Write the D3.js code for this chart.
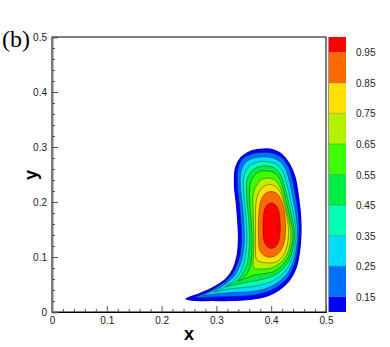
<!DOCTYPE html>
<html>
<head>
<meta charset="utf-8">
<script src="https://cdn.jsdelivr.net/npm/d3@7"></script>
<style>
  body { margin: 0; background: #fff; }
  svg { display: block; font-family: "Liberation Sans", Arial, sans-serif; }
</style>
</head>
<body>
<div id="chart"></div>
<script>
// contour levels shown in the legend
const levels = [0.15, 0.25, 0.35, 0.45, 0.55, 0.65, 0.75, 0.85, 0.95];
const bandColors = ["#0000ff", "#0070ff", "#00dcff", "#00ffb0", "#00ee44",
  "#3cff00", "#b4f000", "#ffe000", "#ff6a00", "#ff0000"];
const xTicks = [0, 0.1, 0.2, 0.3, 0.4, 0.5];
const yTicks = [0, 0.1, 0.2, 0.3, 0.4, 0.5];

// iso-lines, outermost (edge of field) first
const c0 = [[0.2445,0.0236],[0.2701,0.0336],[0.2956,0.0455],[0.3175,0.0600],[0.3303,0.0782],[0.3376,0.1018],
  [0.3403,0.1309],[0.3394,0.1582],[0.3367,0.1945],[0.3330,0.2309],[0.3348,0.2618],[0.3449,0.2809],[0.3631,0.2927],
  [0.3850,0.2964],[0.4051,0.2945],[0.4206,0.2855],[0.4334,0.2691],[0.4434,0.2455],[0.4498,0.2091],[0.4535,0.1764],
  [0.4544,0.1455],[0.4516,0.1091],[0.4453,0.0800],[0.4325,0.0564],[0.4142,0.0400],[0.3905,0.0282],[0.3613,0.0227],
  [0.3285,0.0209],[0.2920,0.0209],[0.2609,0.0209]];
const c15 = [[0.2609,0.0264],[0.2847,0.0364],[0.3066,0.0491],[0.3248,0.0636],[0.3358,0.0818],[0.3431,0.1036],
  [0.3458,0.1309],[0.3449,0.1582],[0.3422,0.1945],[0.3385,0.2291],[0.3394,0.2600],[0.3476,0.2782],[0.3650,0.2873],
  [0.3850,0.2900],[0.4042,0.2882],[0.4188,0.2809],[0.4297,0.2673],[0.4380,0.2436],[0.4453,0.2073],[0.4498,0.1745],
  [0.4507,0.1455],[0.4480,0.1109],[0.4416,0.0845],[0.4297,0.0618],[0.4124,0.0464],[0.3887,0.0355],[0.3613,0.0300],
  [0.3285,0.0282],[0.2938,0.0273]];
const c25 = [[0.2774,0.0309],[0.2993,0.0409],[0.3193,0.0527],[0.3339,0.0673],[0.3431,0.0855],[0.3485,0.1055],
  [0.3513,0.1309],[0.3504,0.1582],[0.3476,0.1945],[0.3440,0.2255],[0.3449,0.2545],[0.3522,0.2709],[0.3686,0.2800],
  [0.3869,0.2818],[0.4033,0.2800],[0.4161,0.2736],[0.4252,0.2618],[0.4325,0.2400],[0.4398,0.2055],[0.4453,0.1745],
  [0.4480,0.1455],[0.4453,0.1127],[0.4389,0.0882],[0.4270,0.0673],[0.4106,0.0527],[0.3905,0.0427],[0.3650,0.0373],
  [0.3339,0.0355],[0.3029,0.0336]];
const c35 = [[0.2956,0.0364],[0.3157,0.0455],[0.3321,0.0573],[0.3431,0.0709],[0.3504,0.0891],[0.3540,0.1091],
  [0.3558,0.1309],[0.3549,0.1582],[0.3522,0.1927],[0.3495,0.2218],[0.3504,0.2473],[0.3577,0.2627],[0.3723,0.2718],
  [0.3887,0.2736],[0.4024,0.2718],[0.4133,0.2655],[0.4215,0.2545],[0.4279,0.2345],[0.4352,0.2036],[0.4416,0.1727],
  [0.4453,0.1455],[0.4425,0.1145],[0.4361,0.0918],[0.4243,0.0727],[0.4088,0.0600],[0.3905,0.0518],[0.3668,0.0464],
  [0.3394,0.0436],[0.3157,0.0409]];
const c45 = [[0.3175,0.0455],[0.3339,0.0545],[0.3449,0.0655],[0.3540,0.0818],[0.3586,0.1036],[0.3604,0.1309],
  [0.3595,0.1582],[0.3568,0.1909],[0.3549,0.2182],[0.3558,0.2400],[0.3631,0.2545],[0.3759,0.2636],[0.3905,0.2655],
  [0.4024,0.2636],[0.4115,0.2573],[0.4188,0.2464],[0.4243,0.2291],[0.4316,0.2000],[0.4380,0.1709],[0.4425,0.1455],
  [0.4398,0.1164],[0.4334,0.0955],[0.4215,0.0782],[0.4069,0.0673],[0.3905,0.0609],[0.3686,0.0564],[0.3449,0.0518],
  [0.3285,0.0482]];
const c55 = [[0.3394,0.0564],[0.3504,0.0636],[0.3595,0.0764],[0.3641,0.0982],[0.3650,0.1273],[0.3641,0.1582],
  [0.3613,0.1891],[0.3604,0.2145],[0.3622,0.2345],[0.3686,0.2473],[0.3796,0.2555],[0.3923,0.2564],[0.4033,0.2545],
  [0.4115,0.2482],[0.4170,0.2382],[0.4224,0.2218],[0.4288,0.1945],[0.4352,0.1673],[0.4398,0.1436],[0.4370,0.1182],
  [0.4307,0.0991],[0.4188,0.0836],[0.4051,0.0736],[0.3887,0.0700],[0.3704,0.0673],[0.3540,0.0618]];
const c65 = [[0.3686,0.0800],[0.3677,0.1036],[0.3686,0.1309],[0.3677,0.1582],[0.3668,0.1855],[0.3668,0.2109],
  [0.3714,0.2273],[0.3814,0.2400],[0.3942,0.2436],[0.4051,0.2409],[0.4133,0.2327],[0.4197,0.2182],[0.4261,0.1927],
  [0.4325,0.1655],[0.4361,0.1418],[0.4334,0.1182],[0.4261,0.1000],[0.4142,0.0873],[0.3996,0.0800],[0.3832,0.0782]];
const c75 = [[0.3741,0.0945],[0.3714,0.1164],[0.3714,0.1436],[0.3714,0.1709],[0.3723,0.1982],[0.3768,0.2164],
  [0.3850,0.2273],[0.3969,0.2318],[0.4078,0.2282],[0.4161,0.2182],[0.4224,0.2000],[0.4279,0.1764],[0.4316,0.1491],
  [0.4297,0.1236],[0.4224,0.1036],[0.4106,0.0918],[0.3960,0.0891]];
const c85 = [[0.3796,0.1109],[0.3768,0.1345],[0.3768,0.1636],[0.3786,0.1909],[0.3841,0.2091],[0.3923,0.2173],
  [0.4015,0.2191],[0.4115,0.2145],[0.4188,0.2018],[0.4243,0.1818],[0.4261,0.1545],[0.4243,0.1291],[0.4170,0.1109],
  [0.4051,0.1009],[0.3905,0.1009]];
const c95 = [[0.3869,0.1291],[0.3850,0.1527],[0.3859,0.1764],[0.3905,0.1918],[0.3987,0.1982],[0.4069,0.1955],
  [0.4133,0.1855],[0.4161,0.1673],[0.4164,0.1455],[0.4133,0.1273],[0.4060,0.1173],[0.3960,0.1164]];

const contours = [c0, c15, c25, c35, c45, c55, c65, c75, c85, c95];

const W = 390, H = 347;
const plot = {left: 52, right: 326, top: 37, bottom: 312};

const svg = d3.select("#chart").append("svg")
  .attr("width", W)
  .attr("height", H);

const x = d3.scaleLinear().domain([0, 0.5]).range([plot.left, plot.right]);
const y = d3.scaleLinear().domain([0, 0.5]).range([plot.bottom, plot.top]);

svg.append("clipPath").attr("id", "clip")
  .append("rect")
  .attr("x", plot.left).attr("y", plot.top)
  .attr("width", plot.right - plot.left).attr("height", plot.bottom - plot.top);

const line = d3.line()
  .x(d => x(d[0]))
  .y(d => y(d[1]))
  .curve(d3.curveCatmullRomClosed.alpha(0.5));

const field = svg.append("g").attr("clip-path", "url(#clip)");

field.selectAll("path.band")
  .data(contours)
  .enter()
  .append("path")
  .attr("class", "band")
  .attr("d", line)
  .attr("fill", (d, i) => bandColors[i])
  .attr("stroke", (d, i) => i === 0 ? "#0000d0" : "#1a1a1a")
  .attr("stroke-width", (d, i) => i === 0 ? 1.2 : 0.55)
  .attr("stroke-opacity", (d, i) => i === 0 ? 1 : 0.75);

// frame
svg.append("rect")
  .attr("x", plot.left).attr("y", plot.top)
  .attr("width", plot.right - plot.left).attr("height", plot.bottom - plot.top)
  .attr("fill", "none")
  .attr("stroke", "#000")
  .attr("stroke-width", 1);

const fmt = d => d === 0 ? "0" : d3.format(".1f")(d);
const minorTicks = d3.range(1, 25).map(i => i * 0.02).filter(v => Math.abs(v * 10 - Math.round(v * 10)) > 1e-6);

// x axis, ticks pointing inward
const xAxis = svg.append("g")
  .attr("transform", "translate(0," + plot.bottom + ")")
  .call(d3.axisBottom(x).tickValues(xTicks).tickSize(-6).tickPadding(5).tickFormat(fmt));
svg.append("g")
  .attr("transform", "translate(0," + plot.bottom + ")")
  .call(d3.axisBottom(x).tickValues(minorTicks).tickSize(-3).tickFormat(""))
  .call(g => g.select(".domain").remove());

const yAxis = svg.append("g")
  .attr("transform", "translate(" + plot.left + ",0)")
  .call(d3.axisLeft(y).tickValues(yTicks).tickSize(-6).tickPadding(5).tickFormat(fmt));
svg.append("g")
  .attr("transform", "translate(" + plot.left + ",0)")
  .call(d3.axisLeft(y).tickValues(minorTicks).tickSize(-3).tickFormat(""))
  .call(g => g.select(".domain").remove());

svg.selectAll(".tick line").attr("stroke", "#555");
svg.selectAll(".tick text").attr("fill", "#222").style("font-size", "10px")
  .style("font-family", "'Liberation Sans', Arial, sans-serif");
xAxis.select(".domain").attr("stroke", "#000");
yAxis.select(".domain").attr("stroke", "#7a7a7a").attr("stroke-width", 2);

// axis titles
svg.append("text")
  .attr("x", (plot.left + plot.right) / 2)
  .attr("y", 340)
  .attr("text-anchor", "middle")
  .style("font-size", "18px")
  .style("font-weight", "bold")
  .text("x");

svg.append("text")
  .attr("transform", "translate(37,175) rotate(-90)")
  .attr("text-anchor", "middle")
  .style("font-size", "18px")
  .style("font-weight", "bold")
  .text("y");

svg.append("text")
  .attr("x", 2)
  .attr("y", 47)
  .style("font-family", "'Liberation Serif', 'Times New Roman', serif")
  .style("font-size", "24px")
  .text("(b)");

// colour legend
const cb = d3.scaleLinear().domain([0.1, 1.0]).range([plot.bottom, plot.top]);
const edges = [0.1].concat(levels, [1.0]);
const cbX = 329, cbW = 17;

svg.selectAll("rect.cb")
  .data(bandColors)
  .enter()
  .append("rect")
  .attr("class", "cb")
  .attr("x", cbX)
  .attr("y", (d, i) => cb(edges[i + 1]))
  .attr("width", cbW)
  .attr("height", (d, i) => cb(edges[i]) - cb(edges[i + 1]))
  .attr("fill", d => d);

svg.selectAll("line.cbl")
  .data(levels.slice(0, -1))
  .enter()
  .append("line")
  .attr("class", "cbl")
  .attr("x1", cbX).attr("x2", cbX + cbW)
  .attr("y1", d => cb(d)).attr("y2", d => cb(d))
  .attr("stroke", "#333")
  .attr("stroke-width", 0.6)
  .attr("stroke-opacity", 0.5);

svg.append("line")
  .attr("x1", cbX - 0.5).attr("x2", cbX - 0.5)
  .attr("y1", plot.top).attr("y2", plot.bottom)
  .attr("stroke", "#999");

svg.selectAll("text.cbt")
  .data(levels)
  .enter()
  .append("text")
  .attr("class", "cbt")
  .attr("x", 356)
  .attr("y", d => cb(d) + 4)
  .attr("fill", "#222")
  .style("font-size", "10px")
  .text(d => d3.format(".2f")(d));
</script>
</body>
</html>
